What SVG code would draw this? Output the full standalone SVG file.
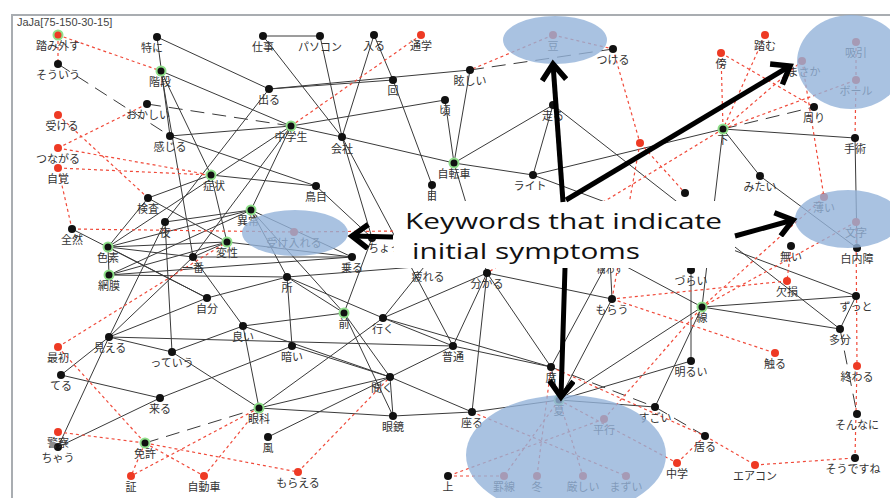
<svg xmlns="http://www.w3.org/2000/svg" width="890" height="498" viewBox="0 0 890 498">
<defs>
<style>
.solid line{stroke:#3a3a3a;stroke-width:1}
.dash line{stroke:#3a3a3a;stroke-width:1;stroke-dasharray:14 8}
.red line{stroke:#f04a3a;stroke-width:1.2;stroke-dasharray:3 3}
.lbl{font-family:"Noto Sans CJK JP","Noto Sans CJK SC",sans-serif;font-size:11px;fill:#333;text-anchor:middle}
.b{fill:#111}
.r{fill:#ee3a24}
.g{stroke:#8fe08a;stroke-width:2}
.hl{fill:#94b3da;opacity:0.8}
.arr{stroke:#000;stroke-width:5;fill:none;marker-end:url(#chev)}
.kw{font-family:"Open Sans","Liberation Sans",sans-serif;font-size:22px;fill:#111}
</style>
<marker id="chev" viewBox="0 0 24 28" refX="19" refY="14" markerWidth="24" markerHeight="28" orient="auto" markerUnits="userSpaceOnUse">
<path d="M3,2 L19,14 L3,26" fill="none" stroke="#000" stroke-width="5.5"/>
</marker>
</defs>
<rect width="890" height="498" fill="#fff"/>
<rect x="12" y="15" width="900" height="500" fill="none" stroke="#a9adb1" stroke-width="2"/>
<text x="17" y="26" font-family="Liberation Sans, sans-serif" font-size="11" fill="#444">JaJa[75-150-30-15]</text>

<g id="connectors">
<g class="solid">
<line x1="263" y1="36" x2="320" y2="36"/>
<line x1="263" y1="36" x2="342" y2="137"/>
<line x1="320" y1="36" x2="342" y2="137"/>
<line x1="374" y1="35" x2="342" y2="137"/>
<line x1="374" y1="35" x2="393" y2="80"/>
<line x1="269" y1="89" x2="393" y2="80"/>
<line x1="269" y1="89" x2="470" y2="70"/>
<line x1="393" y1="80" x2="432" y2="185"/>
<line x1="291" y1="126" x2="445" y2="100"/>
<line x1="291" y1="126" x2="342" y2="137"/>
<line x1="342" y1="137" x2="454" y2="163"/>
<line x1="342" y1="137" x2="453" y2="346"/>
<line x1="342" y1="137" x2="372" y2="238"/>
<line x1="269" y1="89" x2="165" y2="222"/>
<line x1="470" y1="70" x2="454" y2="163"/>
<line x1="445" y1="100" x2="454" y2="163"/>
<line x1="553" y1="105" x2="454" y2="163"/>
<line x1="553" y1="105" x2="533" y2="175"/>
<line x1="454" y1="163" x2="533" y2="175"/>
<line x1="454" y1="163" x2="487" y2="273"/>
<line x1="432" y1="185" x2="428" y2="262"/>
<line x1="157" y1="37" x2="269" y2="89"/>
<line x1="157" y1="37" x2="170" y2="136"/>
<line x1="161" y1="71" x2="291" y2="126"/>
<line x1="161" y1="71" x2="211" y2="175"/>
<line x1="161" y1="71" x2="193" y2="257"/>
<line x1="170" y1="136" x2="291" y2="126"/>
<line x1="170" y1="136" x2="316" y2="186"/>
<line x1="291" y1="126" x2="251" y2="210"/>
<line x1="291" y1="126" x2="193" y2="257"/>
<line x1="291" y1="126" x2="108" y2="247"/>
<line x1="148" y1="198" x2="211" y2="175"/>
<line x1="211" y1="175" x2="316" y2="186"/>
<line x1="211" y1="175" x2="227" y2="242"/>
<line x1="148" y1="198" x2="108" y2="247"/>
<line x1="148" y1="198" x2="227" y2="242"/>
<line x1="72" y1="229" x2="207" y2="298"/>
<line x1="165" y1="222" x2="109" y2="337"/>
<line x1="165" y1="222" x2="172" y2="352"/>
<line x1="165" y1="222" x2="251" y2="210"/>
<line x1="108" y1="247" x2="227" y2="242"/>
<line x1="108" y1="247" x2="193" y2="257"/>
<line x1="108" y1="247" x2="251" y2="210"/>
<line x1="108" y1="247" x2="207" y2="298"/>
<line x1="108" y1="247" x2="109" y2="275"/>
<line x1="109" y1="275" x2="227" y2="242"/>
<line x1="109" y1="275" x2="287" y2="277"/>
<line x1="109" y1="275" x2="251" y2="210"/>
<line x1="109" y1="275" x2="352" y2="257"/>
<line x1="193" y1="257" x2="227" y2="242"/>
<line x1="193" y1="257" x2="352" y2="257"/>
<line x1="193" y1="257" x2="243" y2="326"/>
<line x1="207" y1="298" x2="109" y2="337"/>
<line x1="207" y1="298" x2="287" y2="277"/>
<line x1="109" y1="337" x2="61" y2="375"/>
<line x1="109" y1="337" x2="172" y2="352"/>
<line x1="109" y1="337" x2="58" y2="447"/>
<line x1="109" y1="337" x2="453" y2="346"/>
<line x1="109" y1="337" x2="193" y2="257"/>
<line x1="61" y1="375" x2="160" y2="398"/>
<line x1="58" y1="447" x2="160" y2="398"/>
<line x1="160" y1="398" x2="292" y2="346"/>
<line x1="172" y1="352" x2="259" y2="408"/>
<line x1="172" y1="352" x2="243" y2="326"/>
<line x1="259" y1="408" x2="243" y2="326"/>
<line x1="259" y1="408" x2="390" y2="377"/>
<line x1="259" y1="408" x2="393" y2="416"/>
<line x1="259" y1="408" x2="383" y2="318"/>
<line x1="268" y1="437" x2="390" y2="377"/>
<line x1="243" y1="326" x2="390" y2="377"/>
<line x1="243" y1="326" x2="344" y2="313"/>
<line x1="292" y1="346" x2="287" y2="277"/>
<line x1="292" y1="346" x2="390" y2="377"/>
<line x1="344" y1="313" x2="390" y2="377"/>
<line x1="344" y1="313" x2="393" y2="416"/>
<line x1="383" y1="318" x2="551" y2="367"/>
<line x1="383" y1="318" x2="453" y2="346"/>
<line x1="287" y1="277" x2="383" y2="318"/>
<line x1="287" y1="277" x2="344" y2="313"/>
<line x1="287" y1="277" x2="251" y2="210"/>
<line x1="287" y1="277" x2="428" y2="266"/>
<line x1="251" y1="210" x2="352" y2="257"/>
<line x1="251" y1="210" x2="344" y2="313"/>
<line x1="227" y1="242" x2="352" y2="257"/>
<line x1="344" y1="313" x2="372" y2="238"/>
<line x1="383" y1="318" x2="428" y2="262"/>
<line x1="316" y1="186" x2="372" y2="238"/>
<line x1="487" y1="273" x2="453" y2="346"/>
<line x1="487" y1="273" x2="612" y2="299"/>
<line x1="487" y1="273" x2="472" y2="412"/>
<line x1="487" y1="273" x2="551" y2="367"/>
<line x1="487" y1="273" x2="383" y2="318"/>
<line x1="453" y1="346" x2="551" y2="367"/>
<line x1="390" y1="377" x2="453" y2="346"/>
<line x1="390" y1="377" x2="393" y2="416"/>
<line x1="390" y1="377" x2="472" y2="412"/>
<line x1="393" y1="416" x2="472" y2="412"/>
<line x1="472" y1="412" x2="559" y2="400"/>
<line x1="551" y1="367" x2="559" y2="400"/>
<line x1="559" y1="400" x2="655" y2="407"/>
<line x1="559" y1="400" x2="702" y2="307"/>
<line x1="559" y1="400" x2="691" y2="361"/>
<line x1="655" y1="407" x2="702" y2="307"/>
<line x1="612" y1="299" x2="610" y2="258"/>
<line x1="610" y1="258" x2="551" y2="367"/>
<line x1="612" y1="299" x2="559" y2="400"/>
<line x1="610" y1="258" x2="702" y2="307"/>
<line x1="702" y1="307" x2="856" y2="296"/>
<line x1="702" y1="307" x2="840" y2="329"/>
<line x1="691" y1="270" x2="691" y2="361"/>
<line x1="723" y1="129" x2="855" y2="138"/>
<line x1="855" y1="138" x2="857" y2="248"/>
<line x1="760" y1="176" x2="857" y2="248"/>
<line x1="723" y1="129" x2="760" y2="176"/>
<line x1="723" y1="129" x2="702" y2="307"/>
<line x1="723" y1="129" x2="533" y2="175"/>
<line x1="533" y1="175" x2="856" y2="296"/>
<line x1="553" y1="105" x2="840" y2="329"/>
<line x1="856" y1="296" x2="840" y2="329"/>
</g>
<g class="dash">
<line x1="58" y1="64" x2="170" y2="136"/>
<line x1="147" y1="104" x2="291" y2="126"/>
<line x1="470" y1="70" x2="613" y2="49"/>
<line x1="723" y1="129" x2="814" y2="107"/>
<line x1="840" y1="329" x2="857" y2="414"/>
<line x1="655" y1="407" x2="705" y2="436"/>
<line x1="145" y1="443" x2="259" y2="408"/>
<line x1="551" y1="367" x2="655" y2="407"/>
</g>
<g class="red">
<line x1="58" y1="35" x2="58" y2="64"/>
<line x1="58" y1="35" x2="161" y2="71"/>
<line x1="58" y1="115" x2="148" y2="198"/>
<line x1="58" y1="148" x2="147" y2="104"/>
<line x1="58" y1="148" x2="211" y2="175"/>
<line x1="58" y1="168" x2="211" y2="175"/>
<line x1="58" y1="168" x2="72" y2="229"/>
<line x1="72" y1="229" x2="294" y2="232"/>
<line x1="294" y1="232" x2="400" y2="231"/>
<line x1="421" y1="35" x2="291" y2="126"/>
<line x1="553" y1="35" x2="470" y2="70"/>
<line x1="553" y1="35" x2="613" y2="49"/>
<line x1="613" y1="49" x2="640" y2="143"/>
<line x1="640" y1="143" x2="685" y2="193"/>
<line x1="640" y1="143" x2="612" y2="299"/>
<line x1="721" y1="53" x2="723" y2="129"/>
<line x1="765" y1="35" x2="723" y2="129"/>
<line x1="721" y1="53" x2="814" y2="107"/>
<line x1="723" y1="129" x2="802" y2="61"/>
<line x1="723" y1="129" x2="856" y2="80"/>
<line x1="723" y1="129" x2="487" y2="273"/>
<line x1="856" y1="42" x2="856" y2="80"/>
<line x1="856" y1="80" x2="855" y2="138"/>
<line x1="802" y1="61" x2="824" y2="197"/>
<line x1="824" y1="197" x2="702" y2="307"/>
<line x1="856" y1="222" x2="702" y2="307"/>
<line x1="856" y1="222" x2="857" y2="366"/>
<line x1="857" y1="366" x2="855" y2="458"/>
<line x1="791" y1="246" x2="787" y2="281"/>
<line x1="787" y1="281" x2="612" y2="299"/>
<line x1="612" y1="299" x2="775" y2="353"/>
<line x1="604" y1="419" x2="702" y2="307"/>
<line x1="559" y1="400" x2="504" y2="476"/>
<line x1="559" y1="400" x2="583" y2="476"/>
<line x1="559" y1="400" x2="677" y2="463"/>
<line x1="448" y1="476" x2="504" y2="476"/>
<line x1="472" y1="412" x2="626" y2="476"/>
<line x1="537" y1="476" x2="551" y2="367"/>
<line x1="604" y1="419" x2="448" y2="476"/>
<line x1="551" y1="367" x2="705" y2="436"/>
<line x1="677" y1="463" x2="705" y2="436"/>
<line x1="705" y1="436" x2="755" y2="465"/>
<line x1="755" y1="465" x2="855" y2="458"/>
<line x1="58" y1="347" x2="227" y2="242"/>
<line x1="58" y1="347" x2="145" y2="443"/>
<line x1="58" y1="432" x2="145" y2="443"/>
<line x1="145" y1="443" x2="131" y2="476"/>
<line x1="145" y1="443" x2="204" y2="476"/>
<line x1="145" y1="443" x2="298" y2="472"/>
<line x1="259" y1="408" x2="131" y2="476"/>
<line x1="204" y1="476" x2="259" y2="408"/>
<line x1="298" y1="472" x2="390" y2="377"/>
</g>
</g>

<g id="nodes">
<g id="n1"><circle class="r g" cx="58" cy="35" r="4.5"/><text class="lbl" x="58" y="50">踏み外す</text></g>
<g id="n2"><circle class="b" cx="58" cy="64" r="4"/><text class="lbl" x="58" y="79">そういう</text></g>
<g id="n3"><circle class="b" cx="157" cy="37" r="4"/><text class="lbl" x="152" y="52">特に</text></g>
<g id="n4"><circle class="b g" cx="161" cy="71" r="4.5"/><text class="lbl" x="160" y="86">階段</text></g>
<g id="n5"><circle class="b" cx="147" cy="104" r="4"/><text class="lbl" x="148" y="119">おかしい</text></g>
<g id="n6"><circle class="b" cx="170" cy="136" r="4"/><text class="lbl" x="170" y="151">感じる</text></g>
<g id="n7"><circle class="r" cx="58" cy="115" r="4"/><text class="lbl" x="62" y="130">受ける</text></g>
<g id="n8"><circle class="r" cx="58" cy="148" r="4"/><text class="lbl" x="58" y="163">つながる</text></g>
<g id="n9"><circle class="r" cx="58" cy="168" r="4"/><text class="lbl" x="58" y="183">自覚</text></g>
<g id="n10"><circle class="b" cx="72" cy="229" r="4"/><text class="lbl" x="72" y="244">全然</text></g>
<g id="n11"><circle class="b" cx="148" cy="198" r="4"/><text class="lbl" x="148" y="213">検査</text></g>
<g id="n12"><circle class="b" cx="165" cy="222" r="4"/><text class="lbl" x="165" y="237">夜</text></g>
<g id="n13"><circle class="b g" cx="211" cy="175" r="4.5"/><text class="lbl" x="214" y="190">症状</text></g>
<g id="n14"><circle class="b g" cx="108" cy="247" r="4.5"/><text class="lbl" x="108" y="262">色素</text></g>
<g id="n15"><circle class="b g" cx="109" cy="275" r="4.5"/><text class="lbl" x="109" y="290">網膜</text></g>
<g id="n16"><circle class="b" cx="193" cy="257" r="4"/><text class="lbl" x="193" y="272">一番</text></g>
<g id="n17"><circle class="b" cx="207" cy="298" r="4"/><text class="lbl" x="207" y="313">自分</text></g>
<g id="n18"><circle class="r" cx="58" cy="347" r="4"/><text class="lbl" x="58" y="362">最初</text></g>
<g id="n19"><circle class="b" cx="109" cy="337" r="4"/><text class="lbl" x="110" y="352">見える</text></g>
<g id="n20"><circle class="b" cx="172" cy="352" r="4"/><text class="lbl" x="172" y="367">っていう</text></g>
<g id="n21"><circle class="b" cx="61" cy="375" r="4"/><text class="lbl" x="61" y="390">てる</text></g>
<g id="n22"><circle class="b" cx="160" cy="398" r="4"/><text class="lbl" x="160" y="413">来る</text></g>
<g id="n24"><circle class="b" cx="58" cy="447" r="4"/><text class="lbl" x="58" y="462">ちゃう</text></g>
<g id="n23"><circle class="r" cx="58" cy="432" r="4"/><text class="lbl" x="58" y="447">警察</text></g>
<g id="n25"><circle class="b g" cx="145" cy="443" r="4.5"/><text class="lbl" x="145" y="458">免許</text></g>
<g id="n26"><circle class="r" cx="131" cy="476" r="4"/><text class="lbl" x="131" y="491">証</text></g>
<g id="n27"><circle class="r" cx="204" cy="476" r="4"/><text class="lbl" x="204" y="491">自動車</text></g>
<g id="n28"><circle class="b" cx="263" cy="36" r="4"/><text class="lbl" x="263" y="51">仕事</text></g>
<g id="n29"><circle class="b" cx="320" cy="36" r="4"/><text class="lbl" x="320" y="51">パソコン</text></g>
<g id="n30"><circle class="b" cx="374" cy="35" r="4"/><text class="lbl" x="374" y="50">入る</text></g>
<g id="n31"><circle class="r" cx="421" cy="35" r="4"/><text class="lbl" x="421" y="50">通学</text></g>
<g id="n32"><circle class="b" cx="269" cy="89" r="4"/><text class="lbl" x="269" y="104">出る</text></g>
<g id="n33"><circle class="b" cx="393" cy="80" r="4"/><text class="lbl" x="393" y="95">回</text></g>
<g id="n34"><circle class="b g" cx="291" cy="126" r="4.5"/><text class="lbl" x="291" y="141">中学生</text></g>
<g id="n35"><circle class="b" cx="342" cy="137" r="4"/><text class="lbl" x="342" y="153">会社</text></g>
<g id="n36"><circle class="b" cx="470" cy="70" r="4"/><text class="lbl" x="470" y="85">眩しい</text></g>
<g id="n37"><circle class="b" cx="445" cy="100" r="4"/><text class="lbl" x="445" y="115">頃</text></g>
<g id="n38"><circle class="b g" cx="454" cy="163" r="4.5"/><text class="lbl" x="454" y="178">自転車</text></g>
<g id="n39"><circle class="b" cx="432" cy="185" r="4"/><text class="lbl" x="432" y="200">目</text></g>
<g id="n40"><circle class="b" cx="316" cy="186" r="4"/><text class="lbl" x="316" y="201">鳥目</text></g>
<g id="n41"><circle class="b g" cx="251" cy="210" r="4.5"/><text class="lbl" x="248" y="225">異常</text></g>
<g id="n42"><circle class="b g" cx="227" cy="242" r="4.5"/><text class="lbl" x="227" y="257">変性</text></g>
<g id="n43"><circle class="r" cx="294" cy="232" r="4"/><text class="lbl" x="294" y="247">受け入れる</text></g>
<g id="n44"><circle class="b" cx="352" cy="257" r="4"/><text class="lbl" x="352" y="272">乗る</text></g>
<g id="n45"><circle class="b" cx="287" cy="277" r="4"/><text class="lbl" x="287" y="292">所</text></g>
<g id="n46"><circle class="b" cx="487" cy="273" r="4"/><text class="lbl" x="487" y="288">分かる</text></g>
<g id="n47"><circle class="b" cx="612" cy="299" r="4"/><text class="lbl" x="612" y="314">もらう</text></g>
<g id="n48"><circle class="b g" cx="344" cy="313" r="4.5"/><text class="lbl" x="344" y="328">前</text></g>
<g id="n49"><circle class="b" cx="383" cy="318" r="4"/><text class="lbl" x="383" y="333">行く</text></g>
<g id="n50"><circle class="b" cx="243" cy="326" r="4"/><text class="lbl" x="243" y="341">良い</text></g>
<g id="n51"><circle class="b" cx="292" cy="346" r="4"/><text class="lbl" x="292" y="361">暗い</text></g>
<g id="n52"><circle class="b" cx="453" cy="346" r="4"/><text class="lbl" x="453" y="361">普通</text></g>
<g id="n53"><circle class="b" cx="390" cy="377" r="4"/><text class="lbl" x="382" y="392">聞く</text></g>
<g id="n54"><circle class="b g" cx="259" cy="408" r="4.5"/><text class="lbl" x="259" y="423">眼科</text></g>
<g id="n55"><circle class="b" cx="268" cy="437" r="4"/><text class="lbl" x="268" y="452">風</text></g>
<g id="n56"><circle class="b" cx="393" cy="416" r="4"/><text class="lbl" x="393" y="431">眼鏡</text></g>
<g id="n57"><circle class="r" cx="298" cy="472" r="4"/><text class="lbl" x="298" y="487">もらえる</text></g>
<g id="n58"><circle class="b" cx="448" cy="476" r="4"/><text class="lbl" x="448" y="491">上</text></g>
<g id="n59"><circle class="b" cx="472" cy="412" r="4"/><text class="lbl" x="472" y="427">座る</text></g>
<g id="n60"><circle class="b" cx="551" cy="367" r="4"/><text class="lbl" x="551" y="382">席</text></g>
<g id="n61"><circle class="b g" cx="559" cy="400" r="4.5"/><text class="lbl" x="559" y="415">夏</text></g>
<g id="n62"><circle class="r" cx="604" cy="419" r="4"/><text class="lbl" x="604" y="434">平行</text></g>
<g id="n63"><circle class="r" cx="504" cy="476" r="4"/><text class="lbl" x="504" y="491">罫線</text></g>
<g id="n64"><circle class="r" cx="537" cy="476" r="4"/><text class="lbl" x="537" y="491">冬</text></g>
<g id="n65"><circle class="r" cx="583" cy="476" r="4"/><text class="lbl" x="583" y="491">厳しい</text></g>
<g id="n66"><circle class="r" cx="626" cy="476" r="4"/><text class="lbl" x="626" y="491">まずい</text></g>
<g id="n67"><circle class="b" cx="655" cy="407" r="4"/><text class="lbl" x="655" y="422">すごい</text></g>
<g id="n68"><circle class="r" cx="677" cy="463" r="4"/><text class="lbl" x="677" y="478">中学</text></g>
<g id="n69"><circle class="b" cx="705" cy="436" r="4"/><text class="lbl" x="705" y="451">居る</text></g>
<g id="n70"><circle class="r" cx="755" cy="465" r="4"/><text class="lbl" x="755" y="480">エアコン</text></g>
<g id="n71"><circle class="b" cx="855" cy="458" r="4"/><text class="lbl" x="853" y="473">そうですね</text></g>
<g id="n72"><circle class="b" cx="857" cy="414" r="4"/><text class="lbl" x="857" y="429">そんなに</text></g>
<g id="n73"><circle class="r" cx="857" cy="366" r="4"/><text class="lbl" x="857" y="381">終わる</text></g>
<g id="n74"><circle class="b" cx="840" cy="329" r="4"/><text class="lbl" x="840" y="344">多分</text></g>
<g id="n75"><circle class="r" cx="775" cy="353" r="4"/><text class="lbl" x="775" y="368">触る</text></g>
<g id="n76"><circle class="b" cx="691" cy="361" r="4"/><text class="lbl" x="691" y="376">明るい</text></g>
<g id="n77"><circle class="b g" cx="702" cy="307" r="4.5"/><text class="lbl" x="702" y="322">線</text></g>
<g id="n78"><circle class="b" cx="691" cy="270" r="4"/><text class="lbl" x="691" y="285">づらい</text></g>
<g id="n79"><circle class="r" cx="787" cy="281" r="4"/><text class="lbl" x="787" y="296">欠損</text></g>
<g id="n80"><circle class="b" cx="791" cy="246" r="4"/><text class="lbl" x="791" y="261">無い</text></g>
<g id="n81"><circle class="b" cx="856" cy="296" r="4"/><text class="lbl" x="856" y="311">ずっと</text></g>
<g id="n82"><circle class="b" cx="857" cy="248" r="4"/><text class="lbl" x="857" y="263">白内障</text></g>
<g id="n83"><circle class="r" cx="856" cy="222" r="4"/><text class="lbl" x="856" y="237">文字</text></g>
<g id="n84"><circle class="r" cx="824" cy="197" r="4"/><text class="lbl" x="824" y="212">薄い</text></g>
<g id="n85"><circle class="b" cx="760" cy="176" r="4"/><text class="lbl" x="760" y="191">みたい</text></g>
<g id="n86"><circle class="b" cx="855" cy="138" r="4"/><text class="lbl" x="855" y="153">手術</text></g>
<g id="n87"><circle class="b" cx="814" cy="107" r="4"/><text class="lbl" x="814" y="122">周り</text></g>
<g id="n88"><circle class="b g" cx="723" cy="129" r="4.5"/><text class="lbl" x="723" y="144">下</text></g>
<g id="n89"><circle class="r" cx="721" cy="53" r="4"/><text class="lbl" x="721" y="68">傍</text></g>
<g id="n90"><circle class="r" cx="765" cy="35" r="4"/><text class="lbl" x="765" y="50">踏む</text></g>
<g id="n91"><circle class="r" cx="802" cy="61" r="4"/><text class="lbl" x="804" y="76">まさか</text></g>
<g id="n92"><circle class="r" cx="856" cy="42" r="4"/><text class="lbl" x="856" y="57">吸引</text></g>
<g id="n93"><circle class="r" cx="856" cy="80" r="4"/><text class="lbl" x="856" y="95">ボール</text></g>
<g id="n94"><circle class="b" cx="613" cy="49" r="4"/><text class="lbl" x="613" y="64">つける</text></g>
<g id="n95"><circle class="r" cx="553" cy="35" r="4"/><text class="lbl" x="553" y="50">豆</text></g>
<g id="n96"><circle class="b" cx="553" cy="105" r="4"/><text class="lbl" x="553" y="120">走る</text></g>
<g id="n97"><circle class="r" cx="640" cy="143" r="4"/></g>
<g id="n98"><circle class="b" cx="533" cy="175" r="4"/><text class="lbl" x="530" y="190">ライト</text></g>
<g id="n99"><circle class="b" cx="685" cy="193" r="4"/></g>
<g id="n100"><circle class="b" cx="428" cy="262" r="4"/><text class="lbl" x="428" y="281">疲れる</text></g>
<g id="n101"><circle class="b" cx="610" cy="258" r="4"/><text class="lbl" x="610" y="273" style="font-size:9px">構わず</text></g>
<g id="n102"><circle class="b" cx="372" cy="238" r="4"/><text class="lbl" x="368" y="252" style="text-anchor:start">ちょっと</text></g>
</g>

<g id="highlights">
<ellipse class="hl" cx="555" cy="40" rx="52" ry="24"/>
<ellipse class="hl" cx="851" cy="62" rx="54" ry="47"/>
<ellipse class="hl" cx="848" cy="219" rx="53" ry="29"/>
<ellipse class="hl" cx="295" cy="233" rx="53" ry="23"/>
<ellipse class="hl" cx="566" cy="455" rx="100" ry="60"/>
</g>

<g id="callout">
<rect x="394" y="201" width="341" height="67" fill="#fff"/>
<text class="kw"><tspan x="405" y="229" textLength="317" lengthAdjust="spacingAndGlyphs">Keywords that indicate</tspan><tspan x="412" y="259" textLength="228" lengthAdjust="spacingAndGlyphs">initial symptoms</tspan></text>
<line class="arr" x1="563" y1="202" x2="553" y2="64"/>
<line class="arr" x1="566" y1="200" x2="790" y2="66"/>
<line class="arr" x1="565" y1="268" x2="561" y2="397"/>
<line class="arr" x1="393" y1="237" x2="352" y2="236"/>
<line class="arr" x1="735" y1="236" x2="793" y2="220"/>
</g>
</svg>
